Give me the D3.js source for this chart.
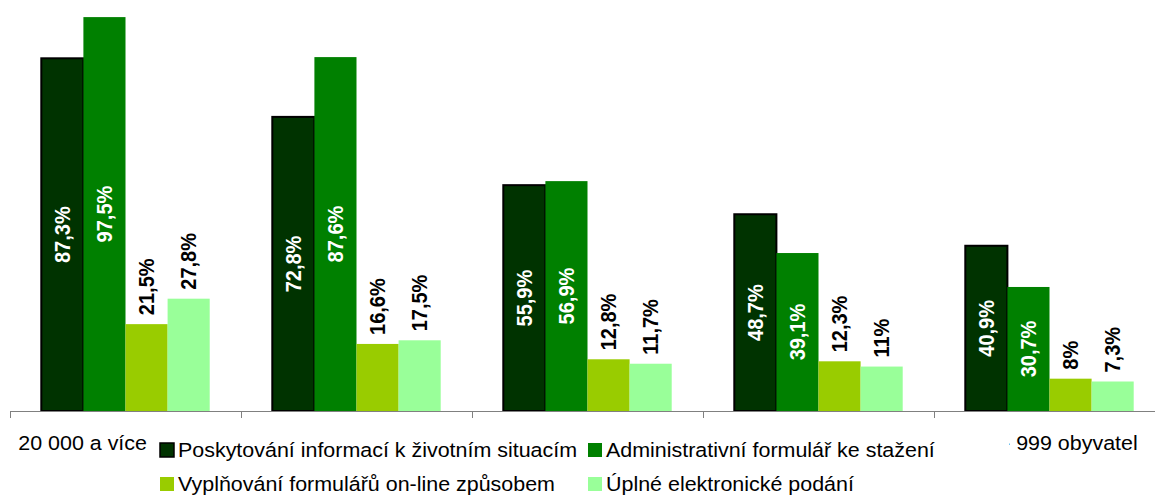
<!DOCTYPE html>
<html>
<head>
<meta charset="utf-8">
<script src="https://cdn.jsdelivr.net/npm/d3@7"></script>
<style>
  body { margin: 0; background: #fff; }
  svg { display: block; font-family: "Liberation Sans", Arial, sans-serif; }
</style>
</head>
<body>
<div id="chart"></div>
<script>
const categories = ["20 000 a více obyvatel", "5 000 - 19 999 obyvatel", "2 000 - 4 999 obyvatel", "1 000 - 1 999 obyvatel", "500 - 999 obyvatel"];
const seriesNames = ["Poskytování informací k životním situacím", "Administrativní formulář ke stažení", "Vyplňování formulářů on-line způsobem", "Úplné elektronické podání"];
const seriesColors = ["#003300", "#008000", "#99cc00", "#99ff99"];
const infoValues = [87.3, 72.8, 55.9, 48.7, 40.9];
const formValues = [97.5, 87.6, 56.9, 39.1, 30.7];
const onlineValues = [21.5, 16.6, 12.8, 12.3, 8];
const filingValues = [27.8, 17.5, 11.7, 11, 7.3];
const allValues = [infoValues, formValues, onlineValues, filingValues];

const width = 1155, height = 495;
const baseY = 411;
const stretch = 1.1; // the original picture is a bit wider than tall

const svg = d3.select("#chart").append("svg")
    .attr("width", width)
    .attr("height", height);

let x0 = d3.scaleBand()
    .domain(categories)
    .range([10, 10 + 231 * categories.length]);

let x1 = d3.scaleBand()
    .domain(d3.range(seriesNames.length))
    .range([x0.bandwidth() * 0.1355, x0.bandwidth() * 0.8645]);

let y = d3.scaleLinear()
    .domain([0, 100])
    .range([baseY, 7]);

let fmt = v => String(v).replace(".", ",") + "%";

// legend box hides the middle of the category labels
const box = {x: 153, y: 424, w: 856, h: 71};

let defs = svg.append("defs");
defs.append("clipPath").attr("id", "labelClip")
  .append("path")
    .attr("clip-rule", "evenodd")
    .attr("d", `M0,${box.y}H${width}V${height}H0Z M${box.x},${box.y}H${box.x + box.w}V${height}H${box.x}Z`);

svg.append("g")
    .attr("clip-path", "url(#labelClip)")
  .selectAll(".cat-label")
  .data(categories)
  .enter().append("text")
    .attr("class", "cat-label")
    .attr("transform", d => `translate(${x0(d) + x0.bandwidth() / 2},450) scale(${stretch},1)`)
    .attr("text-anchor", "middle")
    .style("font-size", "19.5px")
    .attr("fill", "#000")
    .text(d => d);

// bars
let groups = svg.selectAll(".grp")
  .data(categories)
  .enter().append("g")
    .attr("class", "grp")
    .attr("transform", d => `translate(${x0(d)},0)`);

groups.each(function(cat, ci) {
  let g = d3.select(this);
  allValues.forEach((vals, si) => {
    let v = vals[ci];
    let bx = x1(si), bw = x1.bandwidth();
    g.append("rect")
      .attr("x", bx)
      .attr("y", y(v))
      .attr("width", bw)
      .attr("height", baseY - y(v))
      .attr("fill", seriesColors[si])
      .attr("stroke", si === 0 ? "#000" : "none")
      .attr("stroke-width", si === 0 ? 2 : 0);

    let cx = bx + bw / 2;
    let inside = si < 2;
    let ty = inside ? (y(v) + baseY) / 2 : y(v) - 9;
    g.append("text")
      .attr("transform", `translate(${cx},${ty}) scale(${stretch},1) rotate(-90)`)
      .attr("text-anchor", inside ? "middle" : "start")
      .attr("dominant-baseline", "central")
      .style("font-size", "20px")
      .style("font-weight", "bold")
      .attr("fill", inside ? "#fff" : "#000")
      .text(fmt(v));
  });
});

// x axis
svg.append("line")
  .attr("x1", 10).attr("x2", width)
  .attr("y1", baseY + 0.5).attr("y2", baseY + 0.5)
  .attr("stroke", "#808080");

svg.selectAll(".tick")
  .data(categories)
  .enter().append("line")
    .attr("class", "tick")
    .attr("x1", d => Math.round(x0(d)) + 0.5)
    .attr("x2", d => Math.round(x0(d)) + 0.5)
    .attr("y1", baseY)
    .attr("y2", baseY + 7)
    .attr("stroke", "#808080");

// legend
let legend = svg.append("g").attr("class", "legend");

let legendPos = [[160, 443], [588, 443], [160, 477], [588, 477]];
seriesNames.forEach((name, i) => {
  let [lx, ly] = legendPos[i];
  legend.append("rect")
    .attr("x", lx).attr("y", ly)
    .attr("width", 14).attr("height", 14)
    .attr("fill", seriesColors[i])
    .attr("stroke", i === 0 ? "#000" : "none")
    .attr("stroke-width", i === 0 ? 1.5 : 0);
  legend.append("text")
    .attr("transform", `translate(${lx + 18},${ly + 14}) scale(${stretch},1)`)
    .style("font-size", "19.5px")
    .attr("fill", "#000")
    .text(name);
});
</script>
</body>
</html>
